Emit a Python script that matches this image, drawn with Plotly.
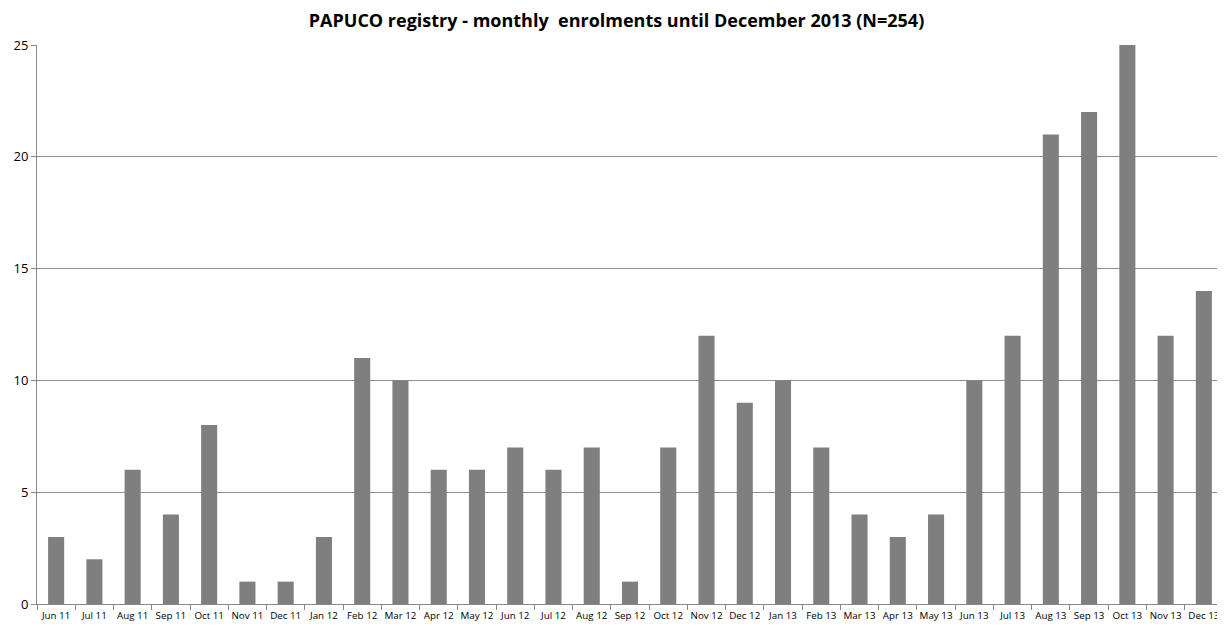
import plotly.graph_objects as go

months = ["Jun 11", "Jul 11", "Aug 11", "Sep 11", "Oct 11", "Nov 11", "Dec 11",
          "Jan 12", "Feb 12", "Mar 12", "Apr 12", "May 12", "Jun 12", "Jul 12",
          "Aug 12", "Sep 12", "Oct 12", "Nov 12", "Dec 12", "Jan 13", "Feb 13",
          "Mar 13", "Apr 13", "May 13", "Jun 13", "Jul 13", "Aug 13", "Sep 13",
          "Oct 13", "Nov 13", "Dec 13"]
enrolments = [3, 2, 6, 4, 8, 1, 1, 3, 11, 10, 6, 6, 7, 6, 7, 1, 7, 12, 9, 10, 7,
              4, 3, 4, 10, 12, 21, 22, 25, 12, 14]
y_ticks = [0, 5, 10, 15, 20, 25]

fig = go.Figure()
fig.add_trace(go.Bar(x=months, y=enrolments, marker=dict(color="#7f7f7f", line=dict(width=0))))

# page body has an 8px margin; compensate so the chart lands where the reference is
fig.update_layout(
    width=1217, height=620,
    margin=dict(l=29, r=2, t=37, b=24),
    plot_bgcolor="white", paper_bgcolor="white",
    bargap=0.58,
    showlegend=False,
    font=dict(family="Open Sans, sans-serif", color="#000000"),
    title=dict(text="<b>PAPUCO registry - monthly  enrolments until December 2013 (N=254)</b>",
               x=0.5, xanchor="center", y=0.99, yanchor="top",
               font=dict(size=18, family="Open Sans, sans-serif", color="#000000")),
    xaxis=dict(type="category", showgrid=False, showline=True, linecolor="#888888",
               linewidth=1, ticks="outside", tickson="boundaries", ticklen=5,
               tickcolor="#888888", tickfont=dict(size=9.8), tickangle=0,
               ticklabelstandoff=2),
    yaxis=dict(range=[0, 25], tickvals=y_ticks, showgrid=True, gridcolor="#8c8c8c",
               gridwidth=1, showline=True, linecolor="#888888", linewidth=1,
               ticks="outside", ticklen=5, tickcolor="#888888", tickfont=dict(size=13),
               zeroline=False),
)

fig.write_html("out.html")
